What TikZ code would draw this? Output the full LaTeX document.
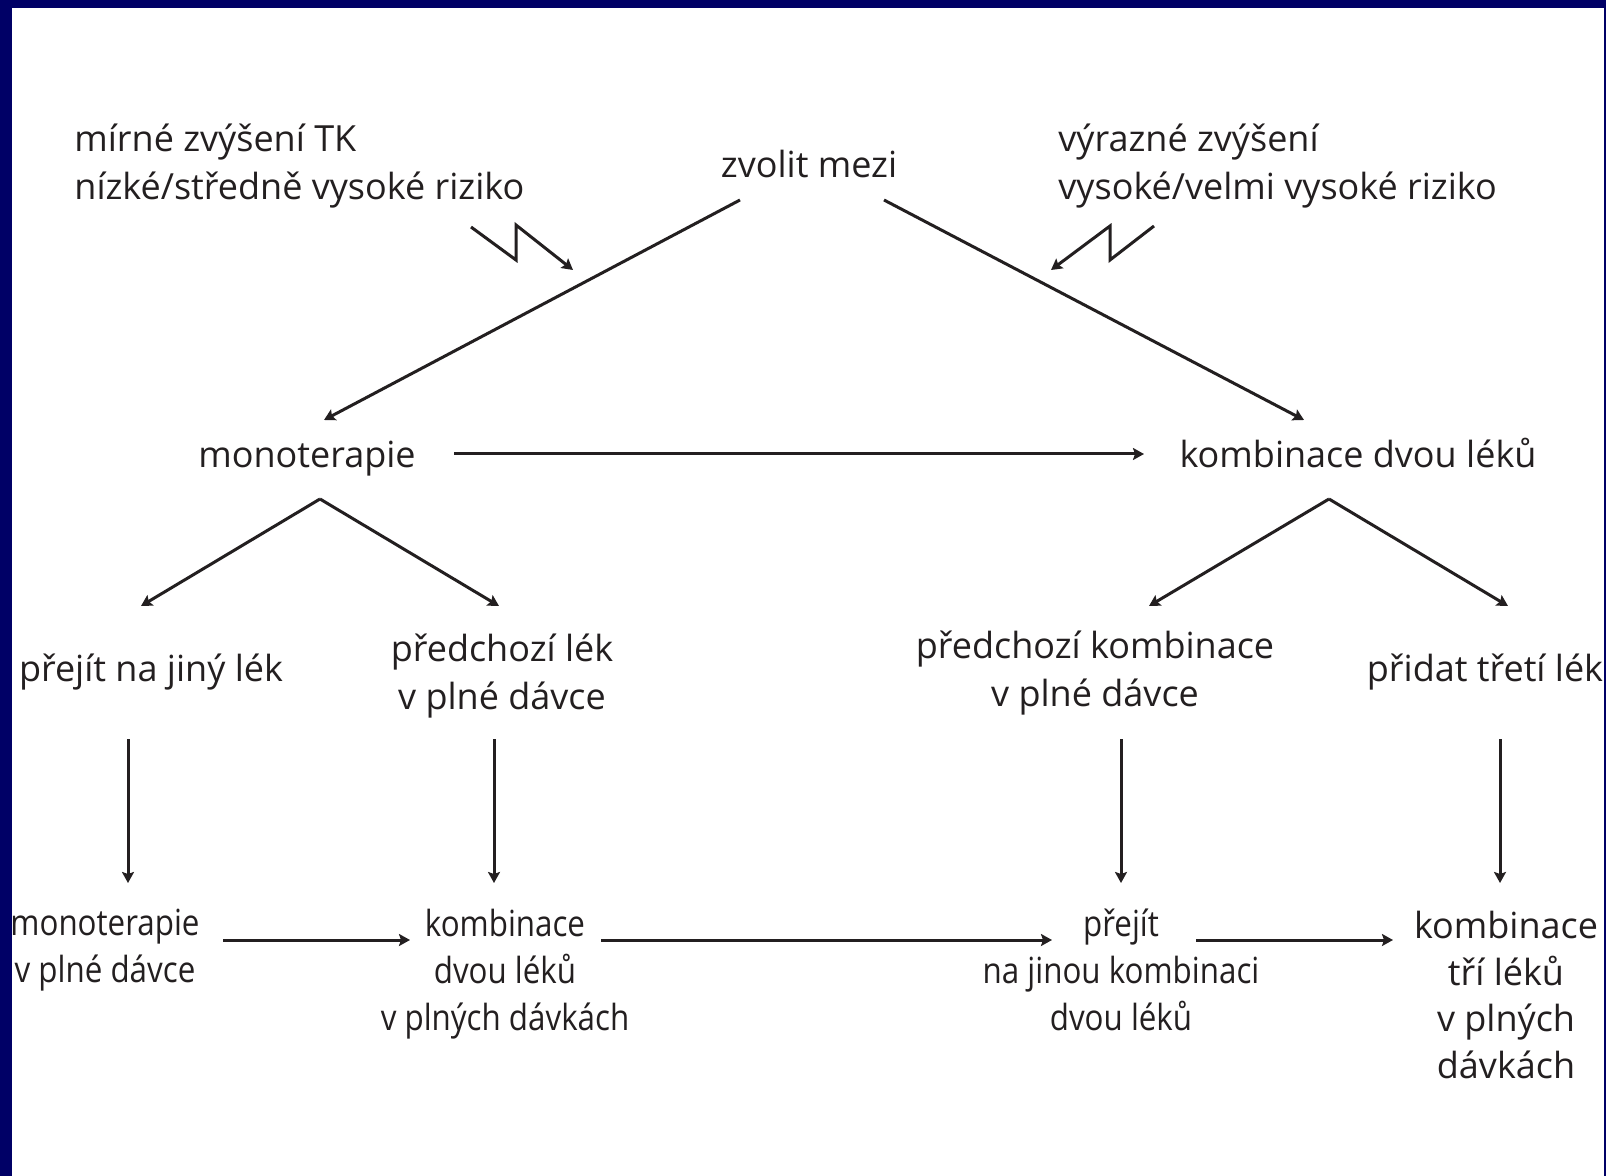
\documentclass[tikz,border=0pt]{standalone}
\usepackage{fontspec}
\setmainfont{Open Sans}
\newfontfamily\condfont[FakeStretch=0.87]{Open Sans}
\usetikzlibrary{arrows.meta}
\definecolor{navyb}{HTML}{000066}
\definecolor{ink}{HTML}{231F20}
\begin{document}
\begin{tikzpicture}[x=0.5pt,y=-0.5pt,
  lbl/.style={inner sep=0pt, text=ink, font=\fontsize{18}{24}\selectfont, align=center},
  lblb/.style={inner sep=0pt, text=ink, font=\fontsize{18}{23.4}\selectfont, align=center},
  cond/.style={inner sep=0pt, text=ink, font=\condfont\fontsize{18}{23.5}\selectfont, align=center},
  conn/.style={draw=ink, line width=1.5pt, -{Stealth[length=5.5pt,width=6pt,inset=1pt]}},
]
\useasboundingbox (0,0) rectangle (1606,1176);
\fill[navyb] (0,0) rectangle (1606,1176);
\fill[white] (12,8) rectangle (1604,1176);

\node[lbl, anchor=west, align=left] (mild) at (74,166) {mírné zvýšení TK\\nízké/středně vysoké riziko};
\node[lbl] (choose) at (809,164) {zvolit mezi};
\node[lbl, anchor=west, align=left] (strong) at (1058,166) {výrazné zvýšení\\vysoké/velmi vysoké riziko};
\node[lbl] (mono) at (307,459) {monoterapie};
\node[lbl] (combo) at (1358,453) {kombinace dvou léků};
\node[lbl] (switch) at (151,672) {přejít na jiný lék};
\node[lbl] (prevd) at (502,676) {předchozí lék\\v plné dávce};
\node[lbl] (prevc) at (1095,673) {předchozí kombinace\\v plné dávce};
\node[lbl] (third) at (1485,672) {přidat třetí lék};
\node[cond] (monofull) at (105,950) {monoterapie\\v plné dávce};
\node[cond] (twofull) at (505,974) {kombinace\\dvou léků\\v plných dávkách};
\node[cond] (other) at (1121,970) {přejít\\na jinou kombinaci\\dvou léků};
\node[lblb] (three) at (1506,995) {kombinace\\tří léků\\v plných\\dávkách};

% lightning bolts
\draw[conn] (471,227) -- (516,260) -- (516,225) -- (573,270);
\draw[conn] (1154,226) -- (1110,260) -- (1110,226) -- (1051,270);

% main connectors
\draw[conn] ([shift={(-69,36)}]choose.center) -- ([shift={(17,-39)}]mono.center);
\draw[conn] ([shift={(75,36)}]choose.center) -- ([shift={(-54,-33)}]combo.center);
\draw[conn] ([shift={(147,-5)}]mono.center) -- ([shift={(-214,1)}]combo.center);

\draw[conn] ([shift={(13,40)}]mono.center) -- ([shift={(-10,-66)}]switch.center);
\draw[conn] ([shift={(13,40)}]mono.center) -- ([shift={(-3,-70)}]prevd.center);
\draw[conn] ([shift={(-29,46)}]combo.center) -- ([shift={(54,-67)}]prevc.center);
\draw[conn] ([shift={(-29,46)}]combo.center) -- ([shift={(23,-66)}]third.center);

\draw[conn] ([shift={(-23,67)}]switch.center) -- ([shift={(23,-67)}]monofull.center);
\draw[conn] ([shift={(-8,63)}]prevd.center) -- ([shift={(-11,-91)}]twofull.center);
\draw[conn] ([shift={(26,66)}]prevc.center) -- ([shift={(0,-87)}]other.center);
\draw[conn] ([shift={(15,67)}]third.center) -- ([shift={(-6,-112)}]three.center);

\draw[conn] ([shift={(118,-10)}]monofull.center) -- ([shift={(-95,-34)}]twofull.center);
\draw[conn] ([shift={(96,-34)}]twofull.center) -- ([shift={(-69,-30)}]other.center);
\draw[conn] ([shift={(75,-30)}]other.center) -- ([shift={(-113,-55)}]three.center);
\end{tikzpicture}
\end{document}
